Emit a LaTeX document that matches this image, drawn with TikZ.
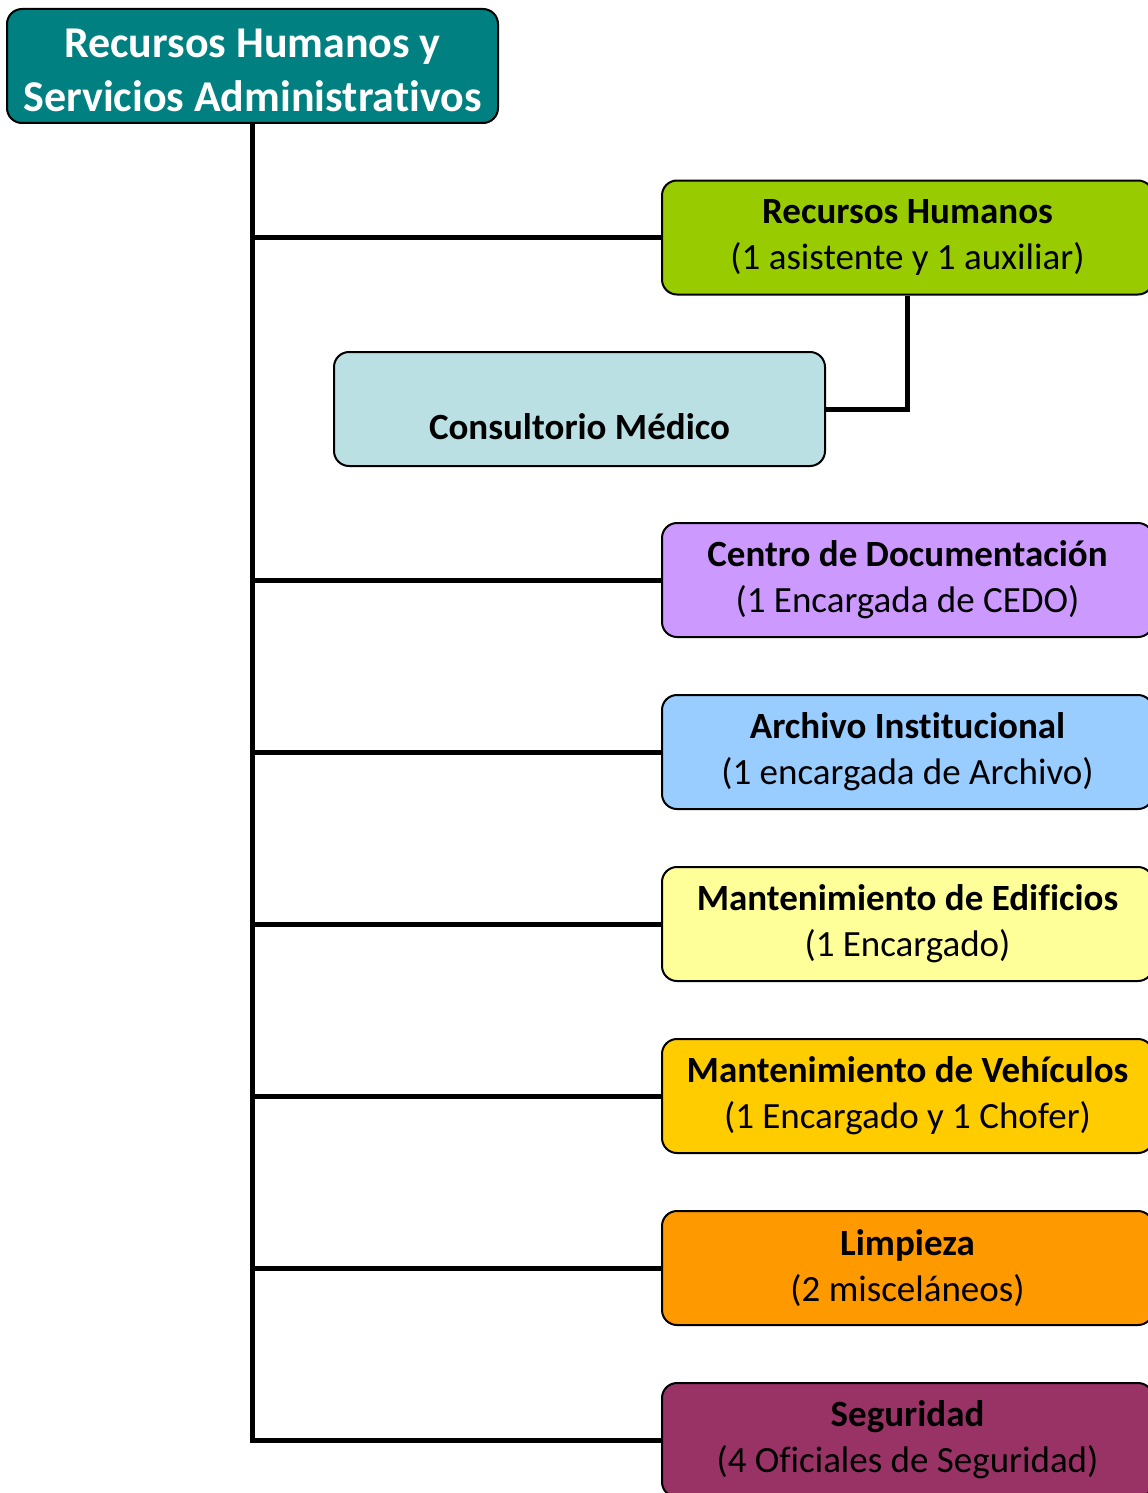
\documentclass[tikz,border=0pt]{standalone}
\usepackage{fontspec}
\setmainfont{Carlito}[Ligatures={NoCommon,NoContextual}]

\definecolor{headteal}{RGB}{0,128,128}
\definecolor{rrhhgreen}{RGB}{153,204,0}
\definecolor{consblue}{RGB}{187,224,227}
\definecolor{cedolila}{RGB}{204,153,255}
\definecolor{archblue}{RGB}{153,204,255}
\definecolor{edifyellow}{RGB}{255,255,153}
\definecolor{vehigold}{RGB}{255,204,0}
\definecolor{limporange}{RGB}{255,153,0}
\definecolor{segplum}{RGB}{153,51,102}

\begin{document}
\begin{tikzpicture}[x=0.5pt, y=-0.5pt,
    box/.style={draw=black, line width=1pt, rounded corners=7.5pt,
        minimum width=245.5pt, minimum height=57pt, inner sep=0pt,
        align=center, font=\fontsize{18.5}{23}\selectfont},
    link/.style={line width=2.5pt, black}]
            \useasboundingbox (0,0) rectangle (1147,1493);

            \node[box, fill=headteal, text=white, font=\fontsize{22}{27}\selectfont\bfseries] (head) at (252.5,66)
                {\rule{0pt}{18.5pt}Recursos Humanos y\\Servicios Administrativos};

            \foreach \y/\n/\c/\lbl/\staff in {237.5/rrhh/rrhhgreen/Recursos Humanos/1 asistente y 1 auxiliar,
                    580/cedo/cedolila/Centro de Documentación/1 Encargada de CEDO,
                    752/arch/archblue/Archivo Institucional/1 encargada de Archivo,
                    924/edif/edifyellow/Mantenimiento de Edificios/1 Encargado,
                    1096/vehi/vehigold/Mantenimiento de Vehículos/1 Encargado y 1 Chofer,
                    1268/limp/limporange/Limpieza/2 misceláneos,
                    1440/segu/segplum/Seguridad/4 Oficiales de Seguridad} {
            \node[box, fill=\c] (\n) at (907.5,\y) {\textbf{\lbl}\\(\staff)};
            \draw[link] (head.south) |- (\n.west);}

            \node[box, fill=consblue] (cons) at (579.5,409) {\rule{0pt}{8pt}\\\textbf{Consultorio Médico}};
            \draw[link] (rrhh.south) |- (cons.east);

            % lines meet the boxes on their borders
        \end{tikzpicture}
\end{document}
